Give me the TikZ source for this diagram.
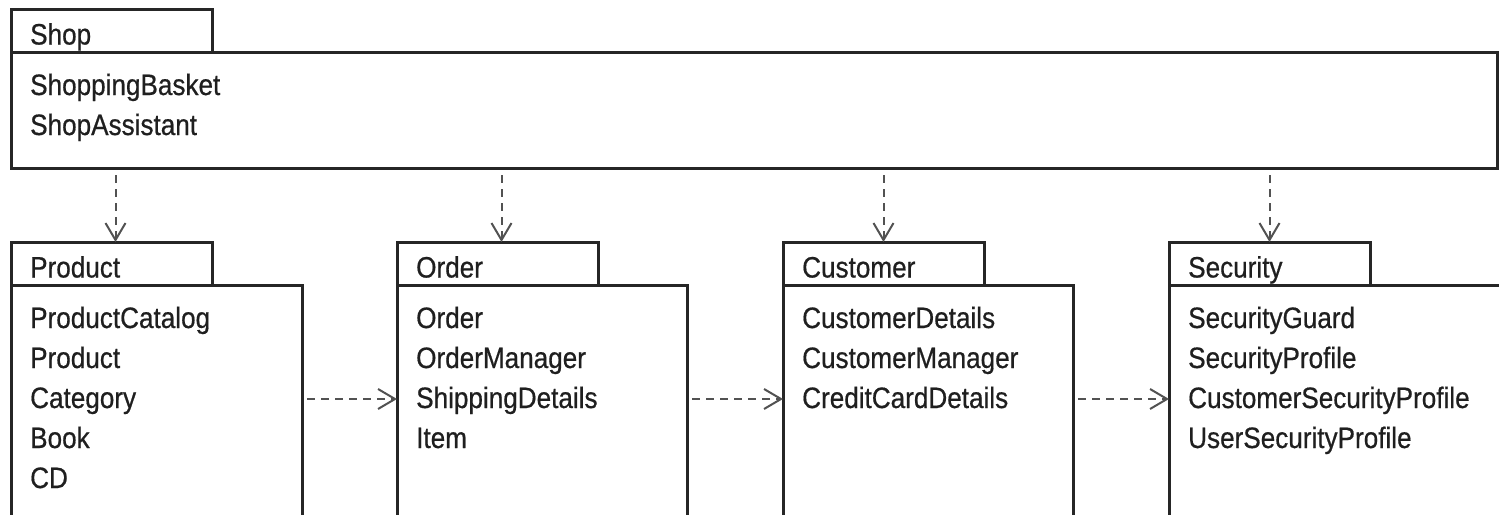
\documentclass[tikz,border=0pt]{standalone}
\usepackage{fontspec}
\setmainfont[FakeStretch=0.885,FakeBold=0.6]{Liberation Sans}
\usetikzlibrary{arrows.meta,positioning}

\tikzset{
  every node/.style={font=\fontsize{29.5}{40}\selectfont, text=black!88},
  tab/.style={draw=black!85, line width=3pt, outer sep=0pt,
    minimum width=201pt, minimum height=43pt, anchor=north west},
  box/.style={draw=black!85, line width=3pt, outer sep=0pt,
    minimum height=260pt, anchor=north west},
  pkgname/.style={anchor=base west, inner sep=0pt},
  items/.style={anchor=base west, inner sep=0pt, text width=320pt, align=left},
  dep/.style={draw=black!68, line width=2pt, dash pattern=on 8pt off 6pt,
    -{Straight Barb[length=17pt,width=20pt,line width=2pt]}, shorten <=7pt}
}

\begin{document}
\begin{tikzpicture}[x=1pt, y=-1pt, node distance=185pt]
  \useasboundingbox (0,0) rectangle (1499,514);
  \clip (0,0) rectangle (1499,514);

  % Shop package
  \node[tab] (shoptab) at (11,9) {};
  \node[box, minimum width=1486pt, minimum height=116pt] (shopbody) at (shoptab.south west) {};
  \node[pkgname] (shopname) at ([xshift=19pt,yshift=7.5pt]shoptab.south west) {Shop};
  \node[items] (shoplist) at ([xshift=19pt,yshift=-43pt]shopbody.north west) {ShoppingBasket\\ShopAssistant};

  % lower packages
  \node[tab] (prodtab) at (11,242) {};
  \node[tab, right=of prodtab] (ordtab) {};
  \node[tab, right=of ordtab] (custtab) {};
  \node[tab, right=of custtab] (sectab) {};

  \node[box, minimum width=291pt] (prodbody) at (prodtab.south west) {};
  \node[box, minimum width=290pt] (ordbody) at (ordtab.south west) {};
  \node[box, minimum width=290pt] (custbody) at (custtab.south west) {};
  \node[box, minimum width=400pt] (secbody) at (sectab.south west) {};

  \node[pkgname] (prodname) at ([xshift=19pt,yshift=7.5pt]prodtab.south west) {Product};
  \node[pkgname] (ordname) at ([xshift=19pt,yshift=7.5pt]ordtab.south west) {Order};
  \node[pkgname] (custname) at ([xshift=19pt,yshift=7.5pt]custtab.south west) {Customer};
  \node[pkgname] (secname) at ([xshift=19pt,yshift=7.5pt]sectab.south west) {Security};

  \node[items] (prodlist) at ([xshift=19pt,yshift=-43pt]prodbody.north west)
    {ProductCatalog\\Product\\Category\\Book\\CD};
  \node[items] (ordlist) at ([xshift=19pt,yshift=-43pt]ordbody.north west)
    {Order\\OrderManager\\ShippingDetails\\Item};
  \node[items] (custlist) at ([xshift=19pt,yshift=-43pt]custbody.north west)
    {CustomerDetails\\CustomerManager\\CreditCardDetails};
  \node[items] (seclist) at ([xshift=19pt,yshift=-43pt]secbody.north west)
    {SecurityGuard\\SecurityProfile\\CustomerSecurityProfile\\UserSecurityProfile};

  % dependencies
  \draw[dep] ([xshift=4pt]shopbody.south -| prodtab.north) -- ([xshift=4pt]prodtab.north);
  \draw[dep] ([xshift=4pt]shopbody.south -| ordtab.north) -- ([xshift=4pt]ordtab.north);
  \draw[dep] (shopbody.south -| custtab.north) -- (custtab.north);
  \draw[dep] (shopbody.south -| sectab.north) -- (sectab.north);

  \draw[dep, shorten <=5pt] ([yshift=-114pt]prodbody.north east) -- ([yshift=-114pt]ordbody.north west);
  \draw[dep, shorten <=5pt] ([yshift=-114pt]ordbody.north east) -- ([yshift=-114pt]custbody.north west);
  \draw[dep, shorten <=5pt] ([yshift=-114pt]custbody.north east) -- ([yshift=-114pt]secbody.north west);
\end{tikzpicture}
\end{document}
